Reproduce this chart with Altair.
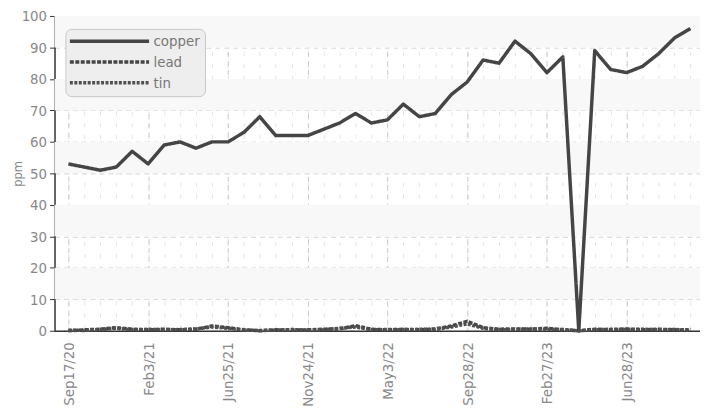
import altair as alt
import pandas as pd

FONT = "DejaVu Sans Condensed, Liberation Sans Narrow, sans-serif"

idx = list(range(40))
copper = [53, 52, 51, 52, 57, 53, 59, 60, 58, 60, 60, 63, 68, 62, 62, 62, 64, 66, 69, 66,
          67, 72, 68, 69, 75, 79, 86, 85, 92, 88, 82, 87, 0, 89, 83, 82, 84, 88, 93, 96]
lead = [0.0, 0.3, 0.5, 1.0, 0.5, 0.3, 0.5, 0.3, 0.5, 1.5, 1.0, 0.3, 0.0, 0.3, 0.2, 0.3, 0.5, 0.6, 1.6, 0.5,
        0.3, 0.5, 0.3, 0.6, 1.5, 3.0, 1.0, 0.5, 0.6, 0.5, 0.8, 0.3, 0.0, 0.5, 0.3, 0.6, 0.3, 0.5, 0.3, 0.2]
tin = [0.2, 0.1, 0.4, 0.8, 0.3, 0.5, 0.3, 0.4, 0.6, 1.2, 0.8, 0.2, 0.1, 0.2, 0.4, 0.2, 0.3, 0.8, 1.2, 0.3,
       0.4, 0.3, 0.5, 0.4, 1.2, 2.2, 0.8, 0.3, 0.4, 0.6, 0.5, 0.4, 0.0, 0.3, 0.5, 0.4, 0.5, 0.3, 0.4, 0.3]
series_names = ["copper", "lead", "tin"]
tick_idx = [0, 5, 10, 15, 20, 25, 30, 35]
tick_labels = ["Sep17/20", "Feb3/21", "Jun25/21", "Nov24/21", "May3/22", "Sep28/22", "Feb27/23", "Jun28/23"]
y_ticks = list(range(0, 101, 10))
band_lo = [10, 30, 50, 70, 90]
band_hi = [20, 40, 60, 80, 100]

rows = []
for name, vals in zip(series_names, [copper, lead, tin]):
    for i, v in zip(idx, vals):
        rows.append({"i": i, "series": name, "value": v})
df = pd.DataFrame(rows)
bands = pd.DataFrame({"lo": band_lo, "hi": band_hi})
grid_df = pd.DataFrame({"i": idx})

xscale = alt.Scale(domain=[-0.87, 39.6], nice=False, zero=False)
yscale = alt.Scale(domain=[0, 100], nice=False)

label_expr = "[" + ",".join("'%s'" % t for t in tick_labels) + "][datum.value/5]"

yaxis = alt.Axis(
    values=y_ticks, grid=True, gridDash=[5, 4], gridColor="#d0d0d0",
    tickSize=5, tickColor="#333", domainColor="#333", domainWidth=1.5,
    labelColor="#888", labelFontSize=15, labelFont=FONT, labelPadding=3,
    title="ppm", titleColor="#888", titleFontSize=13, titleFont=FONT,
    titleFontWeight="normal", titleX=-30, titleY=159, titleAngle=270,
    titleAlign="center", titleBaseline="bottom")

band_layer = alt.Chart(bands).mark_rect(color="#f8f8f8").encode(
    x=alt.value(0), x2=alt.value(652),
    y=alt.Y("lo:Q", scale=yscale, axis=yaxis),
    y2="hi:Q",
)

minor_grid = alt.Chart(grid_df).mark_point(opacity=0).encode(
    x=alt.X("i:Q", scale=xscale, axis=alt.Axis(
        orient="top", values=idx, labels=False, ticks=False, domain=False, title=None,
        grid=True, gridDash=[4, 8], gridColor="#e4e4e4")),
)

lines = alt.Chart(df).mark_line(strokeJoin="round").encode(
    x=alt.X("i:Q", scale=xscale, axis=alt.Axis(
        values=tick_idx, labelExpr=label_expr, labelAngle=-90, ticks=False,
        labelColor="#888", labelFontSize=15, labelFont=FONT, labelPadding=11,
        grid=True, gridDash=[5, 4], gridColor="#c8c8c8",
        domainColor="#333", domainWidth=1.5, title=None)),
    y=alt.Y("value:Q", scale=yscale, axis=yaxis),
    color=alt.Color("series:N", scale=alt.Scale(domain=series_names, range=["#454545", "#454545", "#505050"]),
                    legend=alt.Legend(title=None)),
    strokeDash=alt.StrokeDash("series:N", scale=alt.Scale(domain=series_names, range=[[1, 0], [4, 1.5], [3, 1.5]]),
                              legend=alt.Legend(title=None)),
    strokeWidth=alt.StrokeWidth("series:N", scale=alt.Scale(domain=series_names, range=[3.5, 3.5, 2]),
                                legend=alt.Legend(title=None)),
    order=alt.Order("i:Q"),
)

chart = alt.layer(band_layer, minor_grid, lines).resolve_axis(x="independent").properties(
    width=652, height=318, background="white",
    autosize=alt.AutoSizeParams(type="none"),
    padding={"left": 47, "top": 6, "right": 0, "bottom": 80},
).configure_view(stroke=None).configure_legend(
    orient="none", legendX=11, legendY=13,
    fillColor="#eeeeee", strokeColor="#c8c8c8", cornerRadius=6, padding=5,
    symbolType="M-8,0H8", symbolSize=100, symbolOffset=32, symbolFillColor="transparent",
    labelFontSize=15, labelColor="#777", labelFont=FONT, rowPadding=5, labelOffset=37,
)

chart.save("out.html", embed_options={"renderer": "svg", "actions": False})
